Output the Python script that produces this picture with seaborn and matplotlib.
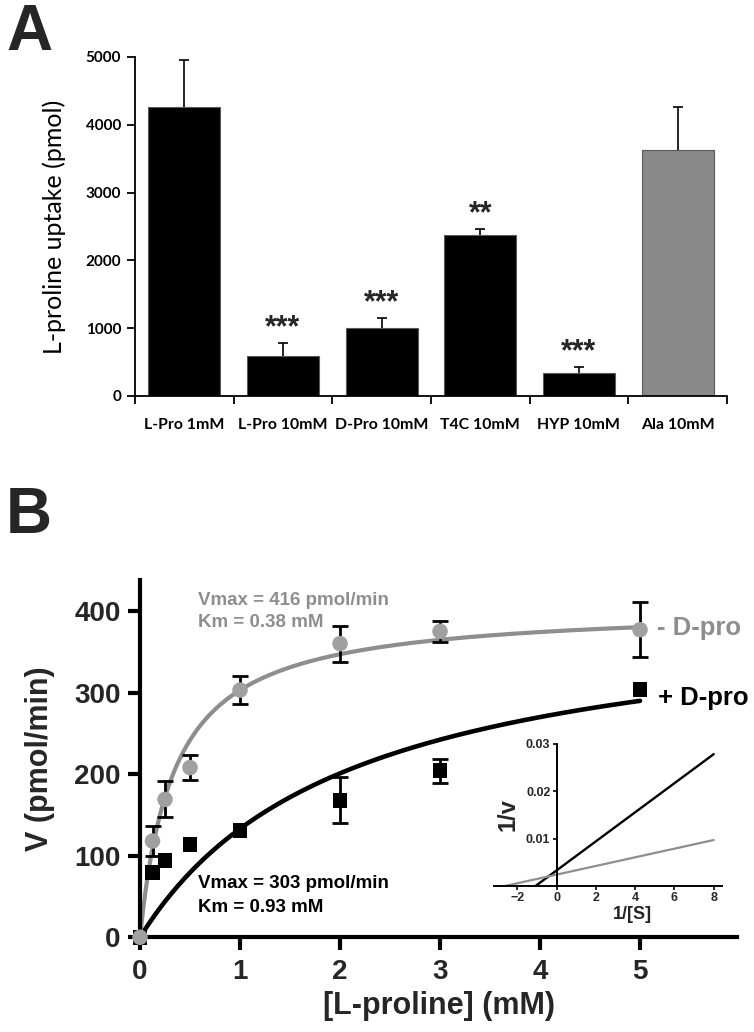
import numpy as np
import pandas as pd
import seaborn as sns
import matplotlib.pyplot as plt

# ---- panel A: uptake inhibition ----
conditions = ["L-Pro 1mM", "L-Pro 10mM", "D-Pro 10mM", "T4C 10mM", "HYP 10mM", "Ala 10mM"]
uptake = [4260, 590, 1000, 2375, 340, 3630]
uptake_err = [700, 190, 150, 90, 90, 630]
stars = ["", "***", "***", "**", "***", ""]
bar_colors = ["black", "black", "black", "black", "black", "#898989"]

# ---- panel B: kinetics ----
conc = [0, 0.125, 0.25, 0.5, 1, 2, 3, 5]
v_minus = [0, 118, 169, 208, 303, 360, 375, 377]
err_minus = [0, 18, 22, 15, 17, 22, 13, 34]
v_plus = [0, 79, 94, 114, 131, 168, 204, 304]
err_plus = [0, 0, 0, 0, 0, 28, 15, 0]

# Michaelis-Menten curves as drawn (Vmax, Km)
fit_minus = (406, 0.34)
fit_plus = (411, 2.09)
# reported constants, used for the Lineweaver-Burk inset
kin_minus = (416, 0.38)
kin_plus = (303, 0.93)

GRAY = "#8e8e8e"
GRAY_PT = "#a0a0a0"

sns.set_style("ticks")
plt.rcParams["font.family"] = ["Liberation Sans", "DejaVu Sans"]

fig = plt.figure(figsize=(7.54, 10.32), dpi=100)

# ================= A =================
axA = fig.add_axes([0.179, 0.6163, 0.785, 0.3285])
dfA = pd.DataFrame({"condition": conditions, "uptake": uptake})
sns.barplot(data=dfA, x="condition", y="uptake", hue="condition",
            palette=bar_colors, width=0.73, errorbar=None, legend=False,
            edgecolor="#5a5a5a", linewidth=0.8, saturation=1, ax=axA)
# one-sided (upper) error bars
eb = axA.errorbar(range(len(conditions)), uptake,
                  yerr=[np.zeros(len(uptake)), uptake_err], fmt="none",
                  ecolor="black", elinewidth=1.2, capsize=3.8, capthick=1.2, zorder=1)
eb[1][0].set_visible(False)
for i, (u, e, s) in enumerate(zip(uptake, uptake_err, stars)):
    if s:
        axA.text(i, u + e + 220, s, ha="center", va="center",
                 fontsize=22, fontweight="bold")

axA.set_xlim(-0.5, len(conditions) - 0.5)
axA.set_ylim(0, 5000)
axA.set_yticks(range(0, 5001, 1000))
axA.set_xticks(range(len(conditions)))
axA.set_xticks(np.arange(-0.5, len(conditions), 1), minor=True)
axA.tick_params(axis="x", which="major", length=0, pad=16)
axA.tick_params(axis="x", which="minor", length=6, width=1.3, color="black")
axA.tick_params(axis="y", length=6, width=1.3, color="black", pad=4)
for lab in axA.get_xticklabels():
    lab.set_family(["Lato", "DejaVu Sans"])
    lab.set_fontweight("bold")
    lab.set_fontsize(11.4)
    lab.set_color("black")
for lab in axA.get_yticklabels():
    lab.set_family(["Lato", "DejaVu Sans"])
    lab.set_fontweight("bold")
    lab.set_fontsize(11)
    lab.set_color("black")
axA.set_xlabel("")
axA.set_ylabel("L-proline uptake (pmol)", fontsize=18, color="black",
               family=["Lato", "DejaVu Sans"], labelpad=14)
sns.despine(ax=axA)
for sp in ["left", "bottom"]:
    axA.spines[sp].set_linewidth(1.3)
    axA.spines[sp].set_color("black")

fig.text(0.008, 0.9516, "A", fontsize=46, fontweight="bold", va="baseline")
fig.text(0.008, 0.4835, "B", fontsize=46, fontweight="bold", va="baseline")

# ================= B =================
axB = fig.add_axes([0.1857, 0.0918, 0.7918, 0.3462])
xs = np.linspace(0, 5, 300)


def mm(s, vmax, km):
    return vmax * s / (km + s)


sns.lineplot(x=xs, y=mm(xs, *fit_plus), color="black", lw=3.3, ax=axB, zorder=2)
sns.lineplot(x=xs, y=mm(xs, *fit_minus), color=GRAY, lw=3.0, ax=axB, zorder=2)

ep = np.array(err_plus)
m = ep > 0
axB.errorbar(np.array(conc)[m], np.array(v_plus)[m], yerr=ep[m], fmt="none",
             ecolor="black", elinewidth=2, capsize=5.5, capthick=2, zorder=3)
sns.scatterplot(x=conc, y=v_plus, marker="s", s=115, color="black",
                edgecolor="none", ax=axB, zorder=4, clip_on=False)

em = np.array(err_minus)
m = em > 0
axB.errorbar(np.array(conc)[m], np.array(v_minus)[m], yerr=em[m], fmt="none",
             ecolor="black", elinewidth=2, capsize=5.5, capthick=2, zorder=5)
sns.scatterplot(x=conc, y=v_minus, marker="o", s=125, color=GRAY_PT,
                edgecolor="none", ax=axB, zorder=6, clip_on=False)

axB.set_xlim(0, 5.97)
axB.set_ylim(0, 438)
axB.set_xticks(range(0, 6))
axB.set_yticks(range(0, 401, 100))
axB.tick_params(length=9, width=3, color="black", labelsize=20, pad=5)
axB.tick_params(axis="x", pad=7)
for lab in axB.get_xticklabels() + axB.get_yticklabels():
    lab.set_fontweight("bold")
sns.despine(ax=axB)
for sp in ["left", "bottom"]:
    axB.spines[sp].set_linewidth(3)
    axB.spines[sp].set_color("black")
axB.set_xlabel("[L-proline] (mM)", fontsize=22, fontweight="bold", labelpad=4)
axB.set_ylabel("V (pmol/min)", fontsize=22, fontweight="bold", labelpad=14)

axB.text(0.58, 413, "Vmax = 416 pmol/min", color=GRAY, fontsize=13.5,
         fontweight="bold", va="center")
axB.text(0.58, 386, "Km = 0.38 mM", color=GRAY, fontsize=13.5,
         fontweight="bold", va="center")
axB.text(0.58, 66, "Vmax = 303 pmol/min", color="black", fontsize=13.5,
         fontweight="bold", va="center")
axB.text(0.58, 37, "Km = 0.93 mM", color="black", fontsize=13.5,
         fontweight="bold", va="center")
axB.text(5.17, 379, "- D-pro", color=GRAY, fontsize=18.5, fontweight="bold",
         va="center")
axB.text(5.18, 293, "+ D-pro", color="black", fontsize=18.5, fontweight="bold",
         va="center")

# ---- inset: Lineweaver-Burk ----
axI = fig.add_axes([0.655, 0.1415, 0.302, 0.1376])
axI.patch.set_alpha(0)
for (vmax, km), col, lw in [(kin_plus, "black", 1.7), (kin_minus, GRAY, 1.6)]:
    xi = np.array([-1 / km, 8])
    sns.lineplot(x=xi, y=km / vmax * xi + 1 / vmax, color=col, lw=lw, ax=axI)
axI.set_xlim(-3.2, 8.4)
axI.set_ylim(0, 0.03)
axI.set_xticks([-2, 0, 2, 4, 6, 8])
axI.set_yticks([0.01, 0.02, 0.03])
axI.set_yticklabels(["0.01", "0.02", "0.03"])
axI.spines["left"].set_position(("data", 0))
axI.spines["top"].set_visible(False)
axI.spines["right"].set_visible(False)
for sp in ["left", "bottom"]:
    axI.spines[sp].set_linewidth(1.4)
    axI.spines[sp].set_color("black")
axI.tick_params(length=3, width=1.2, color="black", labelsize=9, pad=1.5)
for lab in axI.get_xticklabels() + axI.get_yticklabels():
    lab.set_fontweight("bold")
axI.text(0.06, 0.5, "1/v", transform=axI.transAxes, rotation=90,
         ha="center", va="center", fontsize=17, fontweight="bold")
axI.text(0.61, -0.2, "1/[S]", transform=axI.transAxes, ha="center",
         va="center", fontsize=13, fontweight="bold")

fig.savefig("out.png", dpi=100)
